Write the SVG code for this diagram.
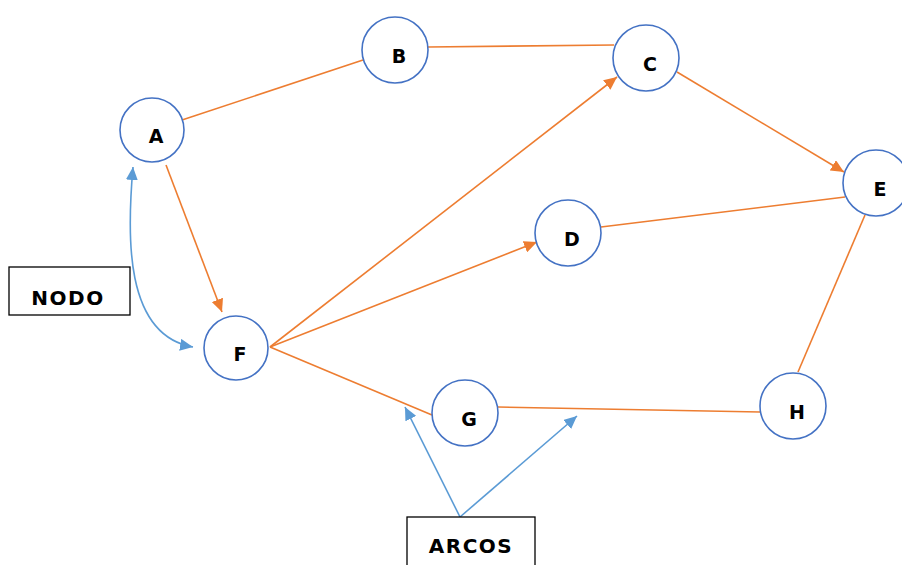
<svg xmlns="http://www.w3.org/2000/svg" width="902" height="565" viewBox="0 0 902 565">
<style>
.node circle{fill:#fff;stroke:#4472C4;stroke-width:1.6}
.node text{font-family:"DejaVu Sans",sans-serif;font-weight:bold;font-size:19px;fill:#000;text-anchor:middle}
.lbl rect{fill:#fff;stroke:#000;stroke-width:1.3}
.lbl text{font-family:"DejaVu Sans",sans-serif;font-weight:bold;font-size:20px;fill:#000;text-anchor:middle;letter-spacing:1.5px}
.o{stroke:#ED7D31;stroke-width:1.6;fill:none}
.b{stroke:#5B9BD5;stroke-width:1.6;fill:none}
</style>
<defs>
<marker id="ao" markerUnits="userSpaceOnUse" markerWidth="14" markerHeight="12" refX="13" refY="6" orient="auto"><path d="M0,0 L13,6 L0,12 z" fill="#ED7D31"/></marker>
<marker id="ab" markerUnits="userSpaceOnUse" markerWidth="14" markerHeight="12" refX="13" refY="6" orient="auto-start-reverse"><path d="M0,0 L13,6 L0,12 z" fill="#5B9BD5"/></marker>
</defs>
<rect width="902" height="565" fill="#fff"/>
<g id="connectors">
<line class="o" x1="182" y1="120" x2="363" y2="60"/>
<line class="o" x1="428" y1="47" x2="614" y2="45"/>
<line class="o" x1="677" y1="72" x2="844" y2="172" marker-end="url(#ao)"/>
<line class="o" x1="601" y1="227" x2="845" y2="197"/>
<line class="o" x1="865" y1="215" x2="798" y2="372"/>
<line class="o" x1="498" y1="407" x2="760" y2="412"/>
<line class="o" x1="270" y1="347" x2="432" y2="415"/>
<line class="o" x1="166" y1="165" x2="222" y2="312" marker-end="url(#ao)"/>
<line class="o" x1="270" y1="347" x2="617" y2="77" marker-end="url(#ao)"/>
<line class="o" x1="270" y1="347" x2="537" y2="242" marker-end="url(#ao)"/>
<path class="b" d="M133,167 C127,235 124,335 193,347" marker-start="url(#ab)" marker-end="url(#ab)"/>
<line class="b" x1="460" y1="517" x2="405" y2="407" marker-end="url(#ab)"/>
<line class="b" x1="460" y1="517" x2="577" y2="416" marker-end="url(#ab)"/>
</g>
<g id="A" class="node"><circle cx="152" cy="130" r="32"/><text x="156" y="143">A</text></g>
<g id="B" class="node"><circle cx="395" cy="50" r="33"/><text x="399" y="63">B</text></g>
<g id="C" class="node"><circle cx="646" cy="58" r="33"/><text x="650" y="71">C</text></g>
<g id="D" class="node"><circle cx="568" cy="233" r="33"/><text x="572" y="246">D</text></g>
<g id="E" class="node"><circle cx="876" cy="183" r="33"/><text x="880" y="196">E</text></g>
<g id="F" class="node"><circle cx="236" cy="348" r="32"/><text x="240" y="361">F</text></g>
<g id="G" class="node"><circle cx="465" cy="413" r="33"/><text x="469" y="426">G</text></g>
<g id="H" class="node"><circle cx="793" cy="406" r="33"/><text x="797" y="419">H</text></g>
<g id="NODO" class="lbl"><rect x="9" y="267" width="121" height="48"/><text x="68" y="305">NODO</text></g>
<g id="ARCOS" class="lbl"><rect x="407" y="517" width="128" height="60"/><text x="471" y="553">ARCOS</text></g>
</svg>
